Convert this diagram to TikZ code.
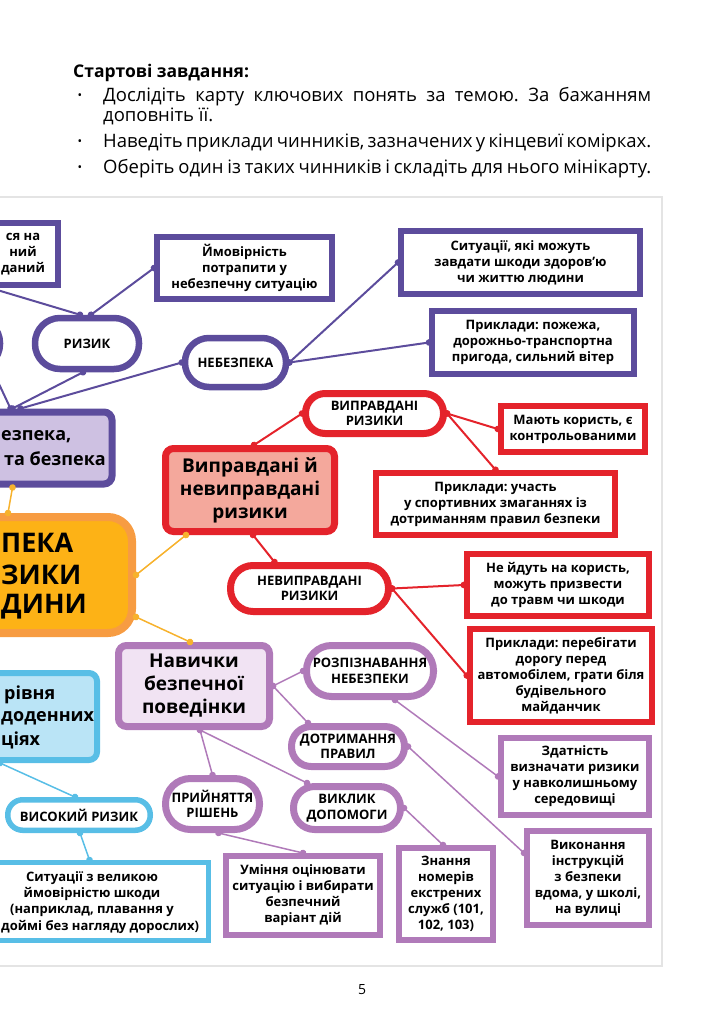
\documentclass[tikz,border=0pt]{standalone}
\usepackage{fontspec}
\setmainfont{Open Sans}
\usetikzlibrary{arrows.meta}
\frenchspacing

\definecolor{riskpurple}{RGB}{92,76,156}
\definecolor{lavenderfill}{RGB}{206,193,226}
\definecolor{riskred}{RGB}{228,35,43}
\definecolor{salmonfill}{RGB}{244,168,156}
\definecolor{coreorange}{RGB}{253,178,22}
\definecolor{coreedge}{RGB}{247,156,66}
\definecolor{linkorange}{RGB}{247,178,45}
\definecolor{skillviolet}{RGB}{176,122,185}
\definecolor{skillfill}{RGB}{241,227,243}
\definecolor{lowblue}{RGB}{88,190,230}
\definecolor{lowfill}{RGB}{186,228,246}
\definecolor{panelgray}{RGB}{228,228,228}

\newcommand\mapHead{\fontsize{18.5}{20}\selectfont}
\newcommand\mapBox{\fontsize{13}{16}\selectfont\bfseries}
\newcommand\mapPill{\fontsize{13}{15.5}\selectfont\bfseries}
\newcommand\mapBig{\fontsize{19}{23}\selectfont\bfseries}
\newcommand\mapCut{\fontsize{18}{22}\selectfont\bfseries}
\newcommand\mapHuge{\fontsize{27}{32}\selectfont\bfseries}

\tikzset{box_size/.style 2 args={minimum width=#1pt, minimum height=#2pt}}
\tikzset{pill_size/.style 2 args={minimum width=#1pt, minimum height=#2pt, rounded corners=#2*0.49pt}}
\tikzset{purple_box/.style={rectangle, draw=riskpurple, line width=6pt, fill=white, inner sep=0pt, align=center, font=\mapBox}}
\tikzset{purple_pill/.style={rectangle, draw=riskpurple, line width=6.5pt, fill=white, inner sep=0pt, align=center, font=\mapPill}}
\tikzset{red_box/.style={rectangle, draw=riskred, line width=6.5pt, fill=white, inner sep=0pt, align=center, font=\mapBox}}
\tikzset{red_pill/.style={rectangle, draw=riskred, line width=7pt, fill=white, inner sep=0pt, align=center, font=\mapPill}}
\tikzset{violet_box/.style={rectangle, draw=skillviolet, line width=6pt, fill=white, inner sep=0pt, align=center, font=\mapBox}}
\tikzset{violet_pill/.style={rectangle, draw=skillviolet, line width=7pt, fill=white, inner sep=0pt, align=center, font=\mapPill}}
\tikzset{blue_box/.style={rectangle, draw=lowblue, line width=5pt, fill=white, inner sep=0pt, align=center, font=\mapBox}}
\tikzset{blue_pill/.style={rectangle, draw=lowblue, line width=5.5pt, fill=white, inner sep=0pt, align=center, font=\mapPill}}
\tikzset{topic_box/.style={rectangle, rounded corners=8pt, line width=7pt, inner sep=0pt, align=center, font=\mapBig}}
\tikzset{cut_text/.style={anchor=west, inner sep=0pt, font=\mapCut}}
\tikzset{task_text/.style={anchor=base west, inner sep=0pt, font=\mapHead}}
\tikzset{task_dot/.style={inner sep=0pt, font=\fontsize{12}{12}\selectfont}}
\tikzset{dot_link/.style={line width=2pt, {Circle[length=6.5pt]}-{Circle[length=6.5pt]}, shorten <=-3.25pt, shorten >=-3.25pt}}

\begin{document}
\begin{tikzpicture}[x=1pt,y=-1pt]
  \useasboundingbox (0,0) rectangle (710,1024);
  \clip (0,0) rectangle (710,1024);

  % tasks above the map
  \node[task_text, font=\fontsize{17.5}{20}\selectfont\bfseries] (tasktitle) at (73,78) {Стартові завдання:};
  \node[task_dot] (dot1) at (80,97) {•};
  \node[task_text] (task1a) at (103,102) {\makebox[548pt][s]{Дослідіть карту ключових понять за темою. За бажанням}};
  \node[task_text] (task1b) at (103,122) {доповніть її.};
  \node[task_dot] (dot2) at (80,143) {•};
  \node[task_text] (task2) at (103,148) {\makebox[548pt][s]{Наведіть приклади чинників, зазначених у кінцевиї комірках.}};
  \node[task_dot] (dot3) at (80,169) {•};
  \node[task_text] (task3) at (103,174) {\makebox[548pt][s]{Оберіть один із таких чинників і складіть для нього мінікарту.}};

  \draw[panelgray, line width=1.2pt] (-10,197) rectangle (662,966);

  % purple part
  \node[purple_box, box_size={95}{62}] (pleft) at (10.5,254) {};
  \node[inner sep=0pt, align=center, font=\mapBox] (pleftlabel) at (23,254) {ся на\\ний\\даний};
  \node[purple_pill, pill_size={87}{51}] (pcut) at (-43.5,343.5) {};
  \node[purple_pill, pill_size={104}{51}] (risk) at (87,343.5) {РИЗИК};
  \node[purple_box, box_size={175}{62}] (chance) at (244.5,268) {Ймовірність\\потрапити у\\небезпечну ситуацію};
  \node[purple_pill, pill_size={101}{49}] (danger) at (235.5,362.5) {НЕБЕЗПЕКА};
  \node[purple_box, box_size={239}{63}] (harm) at (520.5,262.5) {Ситуації, які можуть\\завдати шкоди здоров’ю\\чи життю людини};
  \node[purple_box, box_size={202}{63}] (examples) at (533,342.5) {Приклади: пожежа,\\дорожньо-транспортна\\пригода, сильний вітер};
  \node[topic_box, draw=riskpurple, fill=lavenderfill, box_size={159}{72}] (safety) at (32.5,448) {};
  \node[cut_text] (safetyA) at (1,437) {езпека,};
  \node[cut_text, anchor=east] (safetyB) at (106,459) {та безпека};

  % core
  \node[rectangle, rounded corners=24pt, draw=coreedge, fill=coreorange, line width=8pt, box_size={188}{116}] (core) at (38,575) {};
  \node[cut_text, font=\mapHuge] (coreA) at (1,543) {ПЕКА};
  \node[cut_text, font=\mapHuge] (coreB) at (1,575) {ЗИКИ};
  \node[cut_text, font=\mapHuge] (coreC) at (1,607) {ДИНИ};

  % red part
  \node[red_pill, pill_size={138}{40}] (justified) at (374.5,413.5) {ВИПРАВДАНІ\\РИЗИКИ};
  \node[topic_box, draw=riskred, fill=salmonfill, box_size={169}{83}] (riskkinds) at (250,490) {Виправдані й\\невиправдані\\ризики};
  \node[red_box, box_size={144}{46}] (benefit) at (573,429) {Мають користь, є\\контрольованими};
  \node[red_box, box_size={239}{62}] (sport) at (495.5,504) {Приклади: участь\\у спортивних змаганнях із\\дотриманням правил безпеки};
  \node[red_pill, pill_size={158}{46}] (unjustified) at (309.5,588.5) {НЕВИПРАВДАНІ\\РИЗИКИ};
  \node[red_box, box_size={182}{62}] (harmful) at (558,585) {Не йдуть на користь,\\можуть призвести\\до травм чи шкоди};
  \node[red_box, box_size={182}{93}] (street) at (561,675.5) {Приклади: перебігати\\дорогу перед\\автомобілем, грати біля\\будівельного\\майданчик};

  % violet part
  \node[topic_box, draw=skillviolet, fill=skillfill, box_size={151}{81}] (skills) at (194,686) {Навички\\безпечної\\поведінки};
  \node[violet_pill, pill_size={127}{51}] (recognize) at (370,671) {РОЗПІЗНАВАННЯ\\НЕБЕЗПЕКИ};
  \node[violet_pill, pill_size={113}{40}] (rules) at (348,746.5) {ДОТРИМАННЯ\\ПРАВИЛ};
  \node[violet_pill, pill_size={107}{43}] (help) at (347,808) {ВИКЛИК\\ДОПОМОГИ};
  \node[violet_pill, pill_size={94}{51}] (decide) at (212.5,804) {ПРИЙНЯТТЯ\\РІШЕНЬ};
  \node[violet_box, box_size={154}{79}] (assess) at (303,895.5) {Уміння оцінювати\\ситуацію і вибирати\\безпечний\\варіант дій};
  \node[violet_box, box_size={94}{92}] (numbers) at (446,894) {Знання\\номерів\\екстрених\\служб (101,\\102, 103)};
  \node[violet_box, box_size={148}{77}] (ability) at (575,776.5) {Здатність\\визначати ризики\\у навколишньому\\середовищі};
  \node[violet_box, box_size={122}{94}] (instruct) at (588,878) {Виконання\\інструкцій\\з безпеки\\вдома, у школі,\\на вулиці};

  % blue part
  \node[topic_box, draw=lowblue, fill=lowfill, line width=6pt, box_size={144}{87}] (lowbox) at (25,716.5) {};
  \node[cut_text] (lowA) at (4,695) {рівня};
  \node[cut_text] (lowB) at (1,718) {доденних};
  \node[cut_text] (lowC) at (1,740) {ціях};
  \node[blue_pill, pill_size={142.5}{30.5}] (high) at (79,815) {ВИСОКИЙ РИЗИК};
  \node[blue_box, box_size={256}{78}] (highsit) at (80.5,901.5) {};
  \node[inner sep=0pt, align=center, font=\mapBox] (highsitlabel) at (92,894) {Ситуації з великою\\ймовірністю шкоди\\(наприклад, плавання у};
  \node[anchor=west, inner sep=0pt, font=\mapBox] (highsitend) at (1,927) {доймі без нагляду дорослих)};

  % links
  \draw[dot_link, draw=riskpurple] ([xshift=-20pt]pleft.south) -- ([xshift=-7pt]risk.north);
  \draw[dot_link, draw=riskpurple] ([xshift=4pt]risk.north) -- (chance.west);
  \draw[dot_link, draw=riskpurple] ([xshift=-4pt]risk.south) -- ([xshift=-20pt]safety.north);
  \draw[dot_link, draw=riskpurple] (danger.west) -- ([xshift=-12pt]safety.north);
  \draw[dot_link, draw=riskpurple] ([xshift=37pt]pcut.south) -- ([xshift=-22pt]safety.north);
  \draw[dot_link, draw=riskpurple] (danger.east) -- (harm.west);
  \draw[dot_link, draw=riskpurple] (danger.east) -- (examples.west);

  \draw[dot_link, draw=linkorange, line width=1.5pt] ([xshift=-20pt]safety.south) -- ([xshift=-30pt]core.north);
  \draw[dot_link, draw=linkorange, line width=1.5pt] (core.east) -- ([xshift=24pt]riskkinds.south west);
  \draw[dot_link, draw=linkorange, line width=1.5pt] ([yshift=-42pt]core.east) -- ([xshift=-4pt]skills.north);

  \draw[dot_link, draw=riskred] ([xshift=4pt]riskkinds.north) -- (justified.west);
  \draw[dot_link, draw=riskred] (justified.east) -- (benefit.west);
  \draw[dot_link, draw=riskred] (justified.east) -- (sport.north);
  \draw[dot_link, draw=riskred] ([xshift=3pt]riskkinds.south) -- ([xshift=-35pt]unjustified.north);
  \draw[dot_link, draw=riskred] (unjustified.east) -- (harmful.west);
  \draw[dot_link, draw=riskred] (unjustified.east) -- (street.west);

  \draw[dot_link, draw=skillviolet, line width=1.5pt] (skills.east) -- (recognize.west);
  \draw[dot_link, draw=skillviolet, line width=1.5pt] (skills.east) -- ([xshift=-40pt]rules.north);
  \draw[dot_link, draw=skillviolet, line width=1.5pt] ([xshift=6pt]skills.south) -- (decide.north);
  \draw[dot_link, draw=skillviolet, line width=1.5pt] ([xshift=6pt]skills.south) -- ([xshift=-40pt]help.north);
  \draw[dot_link, draw=skillviolet, line width=1.5pt] ([xshift=25pt]recognize.south) -- (ability.west);
  \draw[dot_link, draw=skillviolet, line width=1.5pt] (rules.east) -- ([yshift=25pt]instruct.west);
  \draw[dot_link, draw=skillviolet, line width=1.5pt] (help.east) -- ([xshift=-3pt]numbers.north);
  \draw[dot_link, draw=skillviolet, line width=1.5pt] ([xshift=6pt]decide.south) -- (assess.north);

  \draw[dot_link, draw=lowblue, line width=1.5pt] ([xshift=-25pt]lowbox.south) -- ([xshift=-4pt]high.north);
  \draw[dot_link, draw=lowblue, line width=1.5pt] ([xshift=1pt]high.south) -- ([xshift=9pt]highsit.north);

  \node[font=\fontsize{14}{16}\selectfont] (pagenum) at (362,990) {5};
\end{tikzpicture}
\end{document}
